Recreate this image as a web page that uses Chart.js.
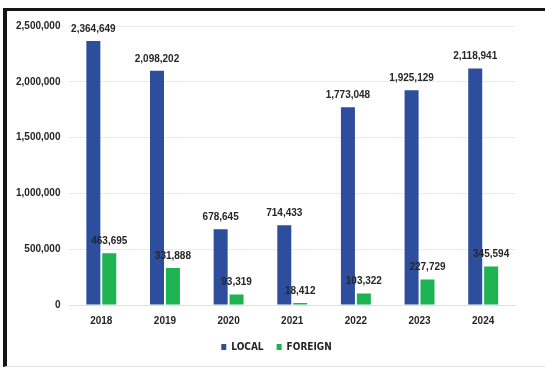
<!DOCTYPE html>
<html>
<head>
<meta charset="utf-8">
<script src="https://cdn.jsdelivr.net/npm/chart.js@4.4.1/dist/chart.umd.min.js"></script>
<style>
  body { margin: 0; background: #fff; }
  #frame {
    position: absolute; left: 3px; top: 8px;
    width: 539px; height: 355px;
    border-top: 3px solid #151515;
    border-left: 4px solid #151515;
    border-right: 1px solid #e2e2e2;
    border-bottom: 1px solid #e2e2e2;
  }
  #frame canvas { display: block; }
</style>
</head>
<body>
<div id="frame"><canvas id="myChart" width="539" height="355"></canvas></div>
<script>
var years = ["2018", "2019", "2020", "2021", "2022", "2023", "2024"];
var local = [2364649, 2098202, 678645, 714433, 1773048, 1925129, 2118941];
var foreign = [463695, 331888, 93319, 18412, 103322, 227729, 345594];
var yTicks = [0, 500000, 1000000, 1500000, 2000000, 2500000];

var fmt = function (v) { return v.toLocaleString('en-US'); };
var narrow = '"Liberation Sans Narrow", "DejaVu Sans Condensed", "Liberation Sans", sans-serif';

// draws the value above every bar
var barLabels = {
    id: 'barLabels',
    afterDatasetsDraw: function (chart) {
        var c = chart.ctx;
        c.save();
        c.font = 'bold 10px "Liberation Sans", Arial, sans-serif';
        c.fillStyle = '#262626';
        c.textAlign = 'center';
        c.textBaseline = 'bottom';
        chart.data.datasets.forEach(function (ds, i) {
            chart.getDatasetMeta(i).data.forEach(function (bar, j) {
                c.fillText(fmt(ds.data[j]), bar.x, bar.y - 7);
            });
        });
        c.restore();
    }
};

var ctx = document.getElementById('myChart').getContext('2d');

var myChart = new Chart(ctx, {
    type: 'bar',
    data: {
        labels: years,
        datasets: [{
            label: 'LOCAL',
            data: local,
            backgroundColor: '#2D4E9C'
        }, {
            label: 'FOREIGN',
            data: foreign,
            backgroundColor: '#1CB350'
        }]
    },
    options: {
        responsive: false,
        animation: false,
        categoryPercentage: 0.5,
        barPercentage: 0.88,
        layout: { padding: { left: 0, right: 0, top: 13, bottom: 4 } },
        plugins: {
            legend: {
                position: 'bottom',
                labels: {
                    boxWidth: 5,
                    boxHeight: 6,
                    padding: 13,
                    color: '#262626',
                    font: { family: narrow, size: 10, weight: 'bold' }
                }
            },
            tooltip: { enabled: false }
        },
        scales: {
            x: {
                grid: { display: false },
                border: { color: '#e0e0e0' },
                ticks: {
                    color: '#262626',
                    padding: 2,
                    font: { family: '"Liberation Sans", Arial, sans-serif', size: 10, weight: 'bold' }
                }
            },
            y: {
                min: 0,
                max: 2500000,
                afterBuildTicks: function (axis) {
                    axis.ticks = yTicks.map(function (v) { return { value: v }; });
                },
                grid: { color: '#ebebeb', drawTicks: false },
                border: { display: false },
                ticks: {
                    color: '#262626',
                    padding: 9,
                    font: { family: '"Liberation Sans", Arial, sans-serif', size: 10, weight: 'bold' },
                    callback: function (v) { return fmt(v); }
                }
            },
            // empty right margin so the legend stays centred on the frame
            spacer: {
                type: 'linear',
                position: 'right',
                grid: { display: false },
                border: { display: false },
                ticks: { display: false },
                afterFit: function (axis) { axis.width = 31; }
            }
        }
    },
    plugins: [barLabels]
});
</script>
</body>
</html>
